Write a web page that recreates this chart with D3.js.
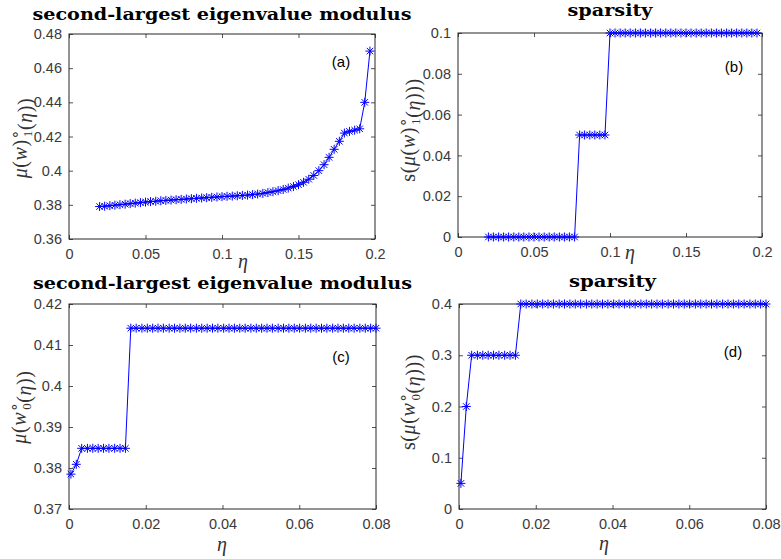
<!DOCTYPE html>
<html>
<head>
<meta charset="utf-8">
<script src="https://cdn.jsdelivr.net/npm/d3@7"></script>
<style>
  body { margin: 0; background: #fff; }
  svg { display: block; }
</style>
</head>
<body>
<script>
// eta grid for panels (a) and (b)
var etaTop = [0.0200,0.0233,0.0267,0.0300,0.0333,0.0367,0.0400,0.0433,0.0467,0.0500,
  0.0533,0.0567,0.0600,0.0633,0.0667,0.0700,0.0733,0.0767,0.0800,0.0833,
  0.0867,0.0900,0.0933,0.0967,0.1000,0.1033,0.1067,0.1100,0.1133,0.1167,
  0.1200,0.1233,0.1267,0.1300,0.1333,0.1367,0.1400,0.1433,0.1467,0.1500,
  0.1533,0.1567,0.1600,0.1633,0.1667,0.1700,0.1733,0.1767,0.1800,0.1833,
  0.1867,0.1900,0.1933,0.1967];

// (a) second-largest eigenvalue modulus
var muA = [0.3790,0.3792,0.3795,0.3798,0.3801,0.3804,0.3807,0.3810,0.3813,0.3816,
  0.3819,0.3821,0.3824,0.3826,0.3828,0.3830,0.3832,0.3834,0.3836,0.3838,
  0.3840,0.3842,0.3844,0.3846,0.3848,0.3850,0.3851,0.3853,0.3855,0.3857,
  0.3860,0.3863,0.3867,0.3872,0.3877,0.3883,0.3890,0.3898,0.3907,0.3918,
  0.3932,0.3950,0.3972,0.4000,0.4035,0.4078,0.4125,0.4172,0.4220,0.4230,
  0.4237,0.4245,0.4400,0.4700];

// (b) sparsity
var sparsityB = [0,0,0,0,0,0,0,0,0,0,
  0,0,0,0,0,0,0,0,0.05,0.05,
  0.05,0.05,0.05,0.05,0.1,0.1,0.1,0.1,0.1,0.1,
  0.1,0.1,0.1,0.1,0.1,0.1,0.1,0.1,0.1,0.1,
  0.1,0.1,0.1,0.1,0.1,0.1,0.1,0.1,0.1,0.1,
  0.1,0.1,0.1,0.1];

// eta grid for panels (c) and (d)
var etaBottom = [0.0005,0.0019,0.0033,0.0048,0.0062,0.0076,0.0090,0.0104,0.0119,0.0133,
  0.0147,0.0161,0.0175,0.0190,0.0204,0.0218,0.0232,0.0246,0.0261,0.0275,
  0.0289,0.0303,0.0317,0.0332,0.0346,0.0360,0.0374,0.0388,0.0403,0.0417,
  0.0431,0.0445,0.0459,0.0474,0.0488,0.0502,0.0516,0.0530,0.0545,0.0559,
  0.0573,0.0587,0.0601,0.0616,0.0630,0.0644,0.0658,0.0672,0.0687,0.0701,
  0.0715,0.0729,0.0743,0.0758,0.0772,0.0786,0.0800];

// (c) second-largest eigenvalue modulus
var muC = [0.3785,0.3809,0.3848,0.3848,0.3848,0.3848,0.3848,0.3848,0.3848,0.3848,
  0.3848,0.4141,0.4141,0.4141,0.4141,0.4141,0.4141,0.4141,0.4141,0.4141,
  0.4141,0.4141,0.4141,0.4141,0.4141,0.4141,0.4141,0.4141,0.4141,0.4141,
  0.4141,0.4141,0.4141,0.4141,0.4141,0.4141,0.4141,0.4141,0.4141,0.4141,
  0.4141,0.4141,0.4141,0.4141,0.4141,0.4141,0.4141,0.4141,0.4141,0.4141,
  0.4141,0.4141,0.4141,0.4141,0.4141,0.4141,0.4141];

// (d) sparsity
var sparsityD = [0.05,0.2,0.3,0.3,0.3,0.3,0.3,0.3,0.3,0.3,
  0.3,0.4,0.4,0.4,0.4,0.4,0.4,0.4,0.4,0.4,
  0.4,0.4,0.4,0.4,0.4,0.4,0.4,0.4,0.4,0.4,
  0.4,0.4,0.4,0.4,0.4,0.4,0.4,0.4,0.4,0.4,
  0.4,0.4,0.4,0.4,0.4,0.4,0.4,0.4,0.4,0.4,
  0.4,0.4,0.4,0.4,0.4,0.4,0.4];

// tick values
var xTicksTop = [0, 0.05, 0.1, 0.15, 0.2];
var xTicksBottom = [0, 0.02, 0.04, 0.06, 0.08];
var yTicksA = [0.36, 0.38, 0.4, 0.42, 0.44, 0.46, 0.48];
var yTicksB = [0, 0.02, 0.04, 0.06, 0.08, 0.1];
var yTicksC = [0.37, 0.38, 0.39, 0.4, 0.41, 0.42];
var yTicksD = [0, 0.1, 0.2, 0.3, 0.4];

var titleLong = "second-largest eigenvalue modulus";
var titleShort = "sparsity";

var svgWidth = 781;
var svgHeight = 559;

var svg = d3.select("body")
  .append("svg")
  .attr("width", svgWidth)
  .attr("height", svgHeight);

var ink = "#262626";
var blue = "#0000ff";

function fmt(v) {
  return String(+v.toFixed(4));
}

// MATLAB style '*' marker
function starPath(r) {
  var d = r * 0.72;
  return "M" + (-r) + ",0H" + r + "M0," + (-r) + "V" + r +
    "M" + (-d) + "," + (-d) + "L" + d + "," + d +
    "M" + (-d) + "," + d + "L" + d + "," + (-d);
}

var panels = [
  { left: 69, right: 375, top: 34, bottom: 239, xs: etaTop, ys: muA,
    xDomain: [0, 0.2], yDomain: [0.36, 0.48], xTicks: xTicksTop, yTicks: yTicksA,
    title: titleLong, titleW: 379, titleY: 20, tag: "(a)", tagX: 341, tagY: 67,
    etaX: 243, etaY: 268, labelX: 27, labelY: 138,
    label: [["μ", "i"], ["(", ""], ["w", "i"], [")", ""], ["sup", "∘"], ["sub", "1"], ["(", ""], ["η", "i"], ["))", ""]] },
  { left: 458, right: 762, top: 33, bottom: 237, xs: etaTop, ys: sparsityB,
    xDomain: [0, 0.2], yDomain: [0, 0.1], xTicks: xTicksTop, yTicks: yTicksB,
    title: titleShort, titleW: 85, titleY: 16, tag: "(b)", tagX: 734, tagY: 72,
    etaX: 630, etaY: 259, labelX: 415, labelY: 130,
    label: [["s", ""], ["(", ""], ["μ", "i"], ["(", ""], ["w", "i"], [")", ""], ["sup", "∘"], ["sub", "1"], ["(", ""], ["η", "i"], [")))", ""]] },
  { left: 69, right: 376, top: 304, bottom: 509, xs: etaBottom, ys: muC,
    xDomain: [0, 0.08], yDomain: [0.37, 0.42], xTicks: xTicksBottom, yTicks: yTicksC,
    title: titleLong, titleW: 379, titleY: 289, tag: "(c)", tagX: 341, tagY: 362,
    etaX: 222, etaY: 551, labelX: 26, labelY: 407,
    label: [["μ", "i"], ["(", ""], ["w", "i"], ["sup", "∘"], ["sub", "0"], ["(", ""], ["η", "i"], ["))", ""]] },
  { left: 459, right: 766, top: 304, bottom: 509, xs: etaBottom, ys: sparsityD,
    xDomain: [0, 0.08], yDomain: [0, 0.4], xTicks: xTicksBottom, yTicks: yTicksD,
    title: titleShort, titleW: 87, titleY: 287, tag: "(d)", tagX: 733, tagY: 357,
    etaX: 604, etaY: 550, labelX: 415, labelY: 402,
    label: [["s", ""], ["(", ""], ["μ", "i"], ["(", ""], ["w", "i"], ["sup", "∘"], ["sub", "0"], ["(", ""], ["η", "i"], [")))", ""]] }
];

panels.forEach(function(p) {
  var width = p.right - p.left;
  var height = p.bottom - p.top;

  var xScale = d3.scaleLinear().domain(p.xDomain).range([0, width]);
  var yScale = d3.scaleLinear().domain(p.yDomain).range([height, 0]);

  var chart = svg.append("g")
    .attr("transform", "translate(" + p.left + "," + p.top + ")");

  // axes: labelled left/bottom, bare top/right, all ticks pointing in
  var bottomAxis = d3.axisBottom(xScale).tickValues(p.xTicks).tickFormat(fmt)
    .tickSizeInner(-4).tickSizeOuter(0).tickPadding(10);
  var leftAxis = d3.axisLeft(yScale).tickValues(p.yTicks).tickFormat(fmt)
    .tickSizeInner(-4).tickSizeOuter(0).tickPadding(7);
  var topAxis = d3.axisTop(xScale).tickValues(p.xTicks).tickFormat("")
    .tickSizeInner(-4).tickSizeOuter(0);
  var rightAxis = d3.axisRight(yScale).tickValues(p.yTicks).tickFormat("")
    .tickSizeInner(-4).tickSizeOuter(0);

  var gb = chart.append("g").attr("transform", "translate(0," + height + ")").call(bottomAxis);
  var gl = chart.append("g").call(leftAxis);
  var gt = chart.append("g").call(topAxis);
  var gr = chart.append("g").attr("transform", "translate(" + width + ",0)").call(rightAxis);

  [gb, gl, gt, gr].forEach(function(g) {
    g.select(".domain").remove();
    g.selectAll(".tick line").attr("stroke", ink).attr("stroke-width", 0.8);
    g.selectAll(".tick text")
      .attr("fill", "#3a3a3a")
      .style("font-family", "'Liberation Sans', Arial, sans-serif")
      .style("font-size", "14.5px");
  });

  chart.append("rect")
    .attr("x", 0).attr("y", 0)
    .attr("width", width).attr("height", height)
    .attr("fill", "none")
    .attr("stroke", ink)
    .attr("stroke-width", 1);

  var points = p.xs.map(function(x, i) { return [x, p.ys[i]]; });

  var line = d3.line()
    .x(function(d) { return xScale(d[0]); })
    .y(function(d) { return yScale(d[1]); });

  chart.append("path")
    .datum(points)
    .attr("d", line)
    .attr("fill", "none")
    .attr("stroke", blue)
    .attr("stroke-width", 1);

  chart.selectAll(".mark")
    .data(points)
    .enter()
    .append("path")
    .attr("class", "mark")
    .attr("transform", function(d) {
      return "translate(" + xScale(d[0]) + "," + yScale(d[1]) + ")";
    })
    .attr("d", starPath(4.5))
    .attr("fill", "none")
    .attr("stroke", blue)
    .attr("stroke-width", 1);

  // title
  svg.append("text")
    .attr("x", (p.left + p.right) / 2)
    .attr("y", p.titleY)
    .attr("text-anchor", "middle")
    .attr("textLength", p.titleW)
    .attr("lengthAdjust", "spacingAndGlyphs")
    .style("font-family", "'DejaVu Serif', serif")
    .style("font-weight", "bold")
    .style("font-size", "17px")
    .attr("fill", "#000")
    .text(p.title);

  // panel tag
  svg.append("text")
    .attr("x", p.tagX)
    .attr("y", p.tagY)
    .attr("text-anchor", "middle")
    .style("font-family", "'Liberation Sans', Arial, sans-serif")
    .style("font-size", "15px")
    .attr("fill", "#000")
    .text(p.tag);

  // x label
  svg.append("text")
    .attr("x", p.etaX)
    .attr("y", p.etaY)
    .attr("text-anchor", "middle")
    .style("font-family", "'Liberation Serif', serif")
    .style("font-style", "italic")
    .style("font-size", "20px")
    .attr("fill", "#333")
    .text("η");

  // y label (math style, rotated)
  var yl = svg.append("text")
    .attr("transform", "translate(" + p.labelX + "," + p.labelY + ") rotate(-90)")
    .attr("text-anchor", "middle")
    .style("font-family", "'Liberation Serif', serif")
    .style("font-size", "20px")
    .style("letter-spacing", "0.6px")
    .attr("fill", "#333");

  p.label.forEach(function(part) {
    if (part[0] === "sup") {
      yl.append("tspan").attr("dy", -7).style("font-family", "'DejaVu Sans', sans-serif")
        .style("font-size", "15px").text(part[1]);
    } else if (part[0] === "sub") {
      yl.append("tspan").attr("dx", -8).attr("dy", 12).style("font-size", "13px").text(part[1]);
      yl.append("tspan").attr("dy", -5).text("");
    } else {
      yl.append("tspan")
        .style("font-style", part[1] === "i" ? "italic" : "normal")
        .text(part[0]);
    }
  });
});
</script>
</body>
</html>
